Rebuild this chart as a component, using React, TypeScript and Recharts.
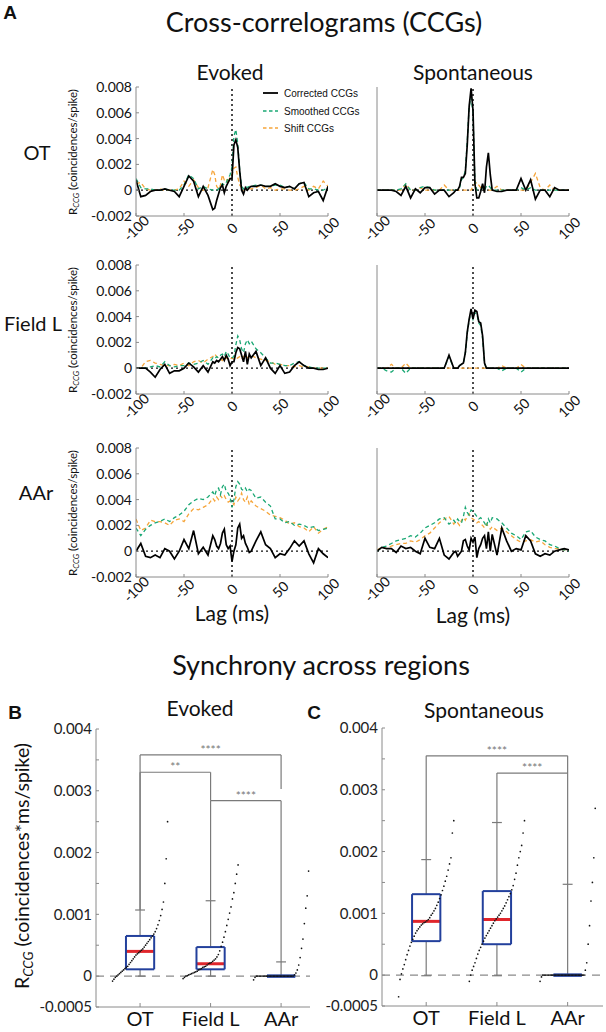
import React from "react";
import { LineChart, Line, XAxis, YAxis, ReferenceLine, ScatterChart, Scatter } from "recharts";

const FONT = "Lato, 'Open Sans', sans-serif";
const GREEN = "#1aa874";
const ORANGE = "#f6a53a";
const AXIS = "#8a8a8a";
const BOX_BLUE = "#23409c";
const MEDIAN_RED = "#e0262c";

// lag grid (ms), finer around zero
const LAGS = [
  -100, -95, -90, -85, -80, -75, -70, -65, -60, -55, -50, -45, -40, -35, -30, -25, -20,
  -18, -16, -14, -12, -10, -8, -6, -4, -2, 0, 2, 4, 6, 8, 10, 12, 14, 16, 18,
  20, 25, 30, 35, 40, 45, 50, 55, 60, 65, 70, 75, 80, 85, 90, 95, 100,
];
const LAG_TICKS = [-100, -50, 0, 50, 100];
const CCG_Y_TICKS = [-0.002, 0, 0.002, 0.004, 0.006, 0.008];

// OT, evoked
const OT_EV_CORRECTED = [
  0.0008, -0.0005, -0.0004, -0.0001, 0, 0, 0.0001, 0, -0.0001, -0.0005, 0.0003, 0.0011, 0.0007, -0.0005, 0.0003, -0.0004, -0.0015,
  -0.0014, -0.0008, -0.0003, 0.0002, 0.0004, -0.0002, 0.0003, 0.0006, 0.0009, 0.0009, 0.0035, 0.0039, 0.0033, 0.0015, 0, -0.0003, 0.0002, 0, 0.0002,
  0.0003, 0.0003, 0.0004, 0.0003, 0.0003, 0.0005, 0.0003, 0.0002, 0.0003, 0.0001, 0.0005, 0.0006, -0.0005, -0.0002, -0.0001, -0.0008, 0.0003,
];
const OT_EV_SMOOTHED = [
  0.0009, 0.0002, 0.0001, 0.0001, 0, 0, 0.0001, 0, 0, 0, 0.0004, 0.0012, 0.0009, 0.0001, 0.0003, 0.0001, 0,
  0, 0, 0.0001, 0.0003, 0.0005, 0.0004, 0.0006, 0.0009, 0.0012, 0.0018, 0.0042, 0.0047, 0.0036, 0.0016, 0.0003, 0.0001, 0.0003, 0.0002, 0.0003,
  0.0003, 0.0004, 0.0004, 0.0003, 0.0003, 0.0004, 0.0004, 0.0002, 0.0003, 0.0001, 0.0005, 0.0006, 0.0001, 0.0001, 0, 0, 0.0002,
];
const OT_EV_SHIFT = [
  0.0005, 0.0006, 0.0001, 0, 0, 0.0001, 0, 0, 0, 0.0001, 0.0007, 0.0003, 0.0008, 0.0002, 0, 0.0002, 0.0016,
  0.0012, 0.0003, 0.0001, 0.0004, 0.0012, 0.0008, 0.0009, 0.0005, 0.0011, 0.0012, 0.0017, 0.0018, 0.001, 0.0004, 0.0002, 0, 0.0001, 0, 0.0001,
  0.0001, 0.0002, 0.0004, 0.0001, 0.0002, 0, 0.0001, 0.0001, 0, 0, 0.0001, 0.0003, 0, 0.0003, 0.0001, 0.0007, 0.0003,
];

// OT, spontaneous
const OT_SP_CORRECTED = [
  0, 0, 0, 0, -0.0001, -0.0004, 0.0003, -0.0006, 0.0001, -0.0002, 0.0002, 0.0002, -0.0003, 0, 0, -0.0005, -0.0002,
  0, 0, 0.0003, 0.001, 0.001, 0.0013, 0.0035, 0.0065, 0.0079, 0.0062, 0.0005, -0.0006, -0.0006, -0.0001, 0.0005, -0.0002, 0.0018, 0.0029, 0.0012,
  0, -0.0001, -0.0001, 0, 0, 0, 0.0009, 0, 0.0008, -0.0007, 0, 0, -0.0005, 0.0002, 0, 0, 0,
];
const OT_SP_SMOOTHED = [
  0, 0, 0, 0, 0, 0.0001, 0.0005, 0, 0, 0.0002, 0.0003, 0.0002, 0, 0, 0, 0, 0,
  0, 0, 0.0002, 0.0008, 0.001, 0.0015, 0.0038, 0.0065, 0.0072, 0.006, 0.0007, 0, 0, 0, 0.0002, 0, 0.0003, 0.0004, 0.0002,
  0, 0, 0, 0, 0, 0, 0.0002, 0, 0.0002, 0, 0, 0, 0, 0, 0, 0, 0,
];
const OT_SP_SHIFT = [
  0, 0, 0, 0, 0, 0, 0.0005, 0, 0, 0.0002, 0, 0, 0, 0, 0.0004, 0, 0,
  0, 0, 0, 0, 0, 0, 0, 0, 0, 0.0003, 0.0005, 0.0006, 0.0004, 0.0002, 0.0003, 0, 0, 0, 0,
  0, 0.0003, 0, 0, 0, 0, 0, 0, 0.0006, 0.0013, 0.0002, 0, 0.0004, 0, 0, 0, 0,
];

// Field L, evoked
const FL_EV_CORRECTED = [
  0, 0, 0, -0.0003, -0.0007, -0.0001, 0.0003, -0.0004, -0.0002, -0.0002, 0, 0.0004, 0.0001, -0.0003, 0.0002, -0.0003, 0.0005,
  0.0004, 0.0006, 0.0005, 0.0007, 0.0009, 0.0006, 0.001, 0.0007, 0.0002, 0.0005, 0.0005, 0.0012, 0.0016, 0.0015, 0.001, 0.0005, 0.0013, 0.0003, 0.0011,
  0.0008, 0.0013, 0.0002, 0.0008, 0, -0.0004, 0.0002, -0.0004, -0.0003, 0.0002, 0.0005, 0.0002, 0, 0, -0.0001, -0.0001, 0,
];
const FL_EV_SMOOTHED = [
  0, 0, 0, 0.0001, 0.0002, 0.0001, 0.0005, 0.0002, 0.0001, 0.0002, 0.0002, 0.0004, 0.0003, 0.0004, 0.0006, 0.0003, 0.0008,
  0.0007, 0.0009, 0.0008, 0.001, 0.0011, 0.0009, 0.0013, 0.0011, 0.0008, 0.0008, 0.0009, 0.0018, 0.0025, 0.0022, 0.0015, 0.0012, 0.0019, 0.0022, 0.0019,
  0.0021, 0.0015, 0.0012, 0.0008, 0.0004, 0.0004, 0.0003, 0.0002, 0.0002, 0.0004, 0.0005, 0.0002, 0.0001, 0, 0, 0, 0,
];
const FL_EV_SHIFT = [
  0, 0, 0.0005, 0.0006, 0.0004, 0.0003, 0.0002, 0.0002, 0.0003, 0.0002, 0.0004, 0.0002, 0.0005, 0.0006, 0.0004, 0.0007, 0.0009,
  0.0011, 0.0009, 0.0008, 0.0007, 0.0006, 0.0009, 0.0008, 0.0007, 0.0007, 0.0008, 0.0007, 0.0007, 0.0008, 0.0009, 0.0007, 0.0009, 0.001, 0.0008, 0.0009,
  0.001, 0.0008, 0.0007, 0.0006, 0.0005, 0.0003, 0.0003, 0.0002, 0.0002, 0.0001, 0.0002, 0.0001, 0.0001, 0, 0, 0, 0,
];

// Field L, spontaneous
const FL_SP_CORRECTED = [
  0, 0, 0, 0, 0, 0, 0, 0, 0, 0, 0, 0, 0, 0, 0, 0.001, 0,
  0, 0, 0.0002, 0.0003, 0.0004, 0.0012, 0.0028, 0.0038, 0.0046, 0.0038, 0.0045, 0.0044, 0.0036, 0.0035, 0.0025, 0.0004, 0, 0, 0,
  0, 0, 0, 0, 0, 0, 0, 0, 0, 0, 0, 0, 0, 0, 0, 0, 0,
];
const FL_SP_SMOOTHED = [
  0, 0, -0.0002, -0.0003, 0, 0, -0.0004, 0, 0, 0, 0, 0, 0, 0, 0, 0.0009, 0,
  0, 0, 0.0002, 0.0003, 0.0004, 0.0011, 0.0027, 0.0037, 0.0044, 0.0038, 0.0043, 0.0042, 0.0035, 0.0033, 0.0023, 0.0004, 0, 0, 0,
  0, 0, -0.0002, 0, 0, 0, -0.0003, 0, 0, 0, 0, 0, 0, 0, 0, 0, 0,
];
const FL_SP_SHIFT = [
  0, 0, 0, 0.0003, 0, 0, 0.0004, 0, 0, 0, 0, 0, 0, 0, 0, 0, 0,
  0, 0, 0, 0, 0, 0, 0, 0, 0, 0, 0, 0, 0, 0, 0, 0, 0, 0, 0,
  0, 0, 0.0002, 0, 0, 0, 0.0003, 0, 0, 0, 0, 0, 0, 0, 0, 0, 0,
];

// AAr, evoked
const AAR_EV_CORRECTED = [
  0, 0.0006, -0.0004, -0.0005, -0.0003, -0.0005, 0.0002, 0, -0.0006, 0, 0.0009, 0.0002, 0.0016, -0.0002, 0.0003, -0.0003, 0.0012,
  0.0009, 0.0004, 0.0002, 0.0006, 0.0014, 0.0017, 0.0005, 0.0002, 0.0004, -0.0008, 0, 0.0005, 0.0018, 0.0021, 0.001, 0.0012, 0.0006, 0.0003, -0.0001,
  0, 0.0008, 0.0015, 0.0005, 0.0002, -0.0005, -0.0002, -0.0003, 0.0002, 0.0008, 0.0004, 0.0008, -0.0002, -0.0009, 0.0002, -0.0002, -0.0005,
];
const AAR_EV_SMOOTHED = [
  0.0018, 0.0012, 0.0017, 0.002, 0.0022, 0.0023, 0.0025, 0.0023, 0.0026, 0.0028, 0.0031, 0.0036, 0.0039, 0.0041, 0.004, 0.0042, 0.0046,
  0.0043, 0.0048, 0.0049, 0.0044, 0.005, 0.0052, 0.0046, 0.0045, 0.0042, 0.0034, 0.004, 0.005, 0.0054, 0.0052, 0.0048, 0.0047, 0.0049, 0.0046, 0.0048,
  0.0047, 0.0041, 0.0042, 0.0038, 0.0035, 0.0025, 0.0025, 0.0022, 0.0023, 0.002, 0.0021, 0.002, 0.0018, 0.0019, 0.0016, 0.0017, 0.0018,
];
const AAR_EV_SHIFT = [
  0.0025, 0.0016, 0.0018, 0.0024, 0.0023, 0.0023, 0.0022, 0.002, 0.0024, 0.0025, 0.0023, 0.0029, 0.0033, 0.0032, 0.0034, 0.0036, 0.0041,
  0.0039, 0.0042, 0.004, 0.0043, 0.0041, 0.0043, 0.004, 0.0038, 0.0039, 0.0038, 0.0036, 0.0042, 0.0039, 0.0041, 0.0045, 0.004, 0.0038, 0.0042, 0.0036,
  0.0039, 0.0035, 0.0033, 0.0031, 0.0028, 0.0027, 0.0026, 0.0024, 0.0021, 0.0022, 0.0019, 0.0018, 0.0015, 0.0019, 0.0014, 0.0017, 0.0019,
];

// AAr, spontaneous
const AAR_SP_CORRECTED = [
  0, 0.0003, 0.0002, 0.0002, -0.0001, 0.0004, 0.0002, 0.0003, 0, -0.0002, 0.001, 0.0003, 0.0002, 0.001, -0.0003, -0.0006, -0.0001,
  0, -0.0004, -0.0002, 0, 0.0008, 0.0009, 0.0004, 0.0001, 0.001, 0.0007, 0.0011, -0.0005, 0.0002, 0.0005, 0.001, 0.0012, 0.0002, 0.0015, 0,
  0.0013, -0.0003, 0.0018, 0.0008, 0, 0.0002, 0.0001, 0.0012, 0.0008, -0.0002, -0.0004, -0.0002, -0.0003, 0, 0.0001, 0.0002, 0.0001,
];
const AAR_SP_SMOOTHED = [
  0, 0.0003, 0.0004, 0.0006, 0.0008, 0.0009, 0.001, 0.0012, 0.0011, 0.0014, 0.0018, 0.002, 0.0022, 0.0025, 0.0026, 0.0021, 0.0024,
  0.0022, 0.0025, 0.0023, 0.0022, 0.0027, 0.0034, 0.003, 0.0028, 0.0032, 0.0031, 0.0029, 0.0027, 0.0025, 0.0026, 0.0024, 0.0022, 0.0019, 0.0025, 0.0022,
  0.0026, 0.0025, 0.0022, 0.0018, 0.0014, 0.0012, 0.0009, 0.0015, 0.0016, 0.0011, 0.0009, 0.0008, 0.0005, 0.0004, 0.0002, 0.0001, 0,
];
const AAR_SP_SHIFT = [
  0.0001, 0.0003, 0.0002, 0.0004, 0.0005, 0.0006, 0.0006, 0.0008, 0.0007, 0.0009, 0.0012, 0.0014, 0.0018, 0.0022, 0.0025, 0.0027, 0.0021,
  0.0023, 0.0022, 0.002, 0.0024, 0.0026, 0.0024, 0.0027, 0.0029, 0.0026, 0.0025, 0.0024, 0.0022, 0.0023, 0.0021, 0.002, 0.0018, 0.0021, 0.0019, 0.0017,
  0.0019, 0.0016, 0.0018, 0.0015, 0.0012, 0.0009, 0.0007, 0.0008, 0.0009, 0.0007, 0.0008, 0.0005, 0.0003, 0.0002, 0.0002, 0.0001, 0.0001,
];

// Synchrony box plots
const REGIONS = ["OT", "Field L", "AAr"];
const BOX_Y_TICKS = [-0.0005, 0, 0.0005, 0.001, 0.0015, 0.002, 0.0025, 0.003, 0.0035, 0.004];
const BOX_Y_LABELED = [-0.0005, 0, 0.001, 0.002, 0.003, 0.004];

const EV_Q1 = [0.00011, 0.00011, 0];
const EV_MEDIAN = [0.0004, 0.0002, 0];
const EV_Q3 = [0.00065, 0.00047, 0];
const EV_LO = [0, 0, 0];
const EV_HI = [0.00107, 0.00122, 0.00023];

const SP_Q1 = [0.00055, 0.0005, 0];
const SP_MEDIAN = [0.00087, 0.0009, 0];
const SP_Q3 = [0.00131, 0.00136, 0];
const SP_LO = [-0.00001, -0.00001, 0];
const SP_HI = [0.00187, 0.00247, 0.00147];

const EV_OT_PTS = [
  -0.00008, -0.00005, -0.00002, 0, 0.00002, 0.00004, 0.00006, 0.00008, 0.0001, 0.00012, 0.00014, 0.00016, 0.00019, 0.00022,
  0.00025, 0.00028, 0.00031, 0.00034, 0.00036, 0.00038, 0.0004, 0.00042, 0.00044, 0.00047, 0.0005, 0.00053, 0.00056, 0.00059,
  0.00062, 0.00065, 0.00068, 0.00072, 0.00077, 0.00083, 0.0009, 0.00098, 0.00108, 0.0012, 0.0015, 0.0019, 0.0025,
];
const EV_FL_PTS = [
  -0.00004, -0.00002, 0, 0.00001, 0.00002, 0.00003, 0.00004, 0.00005, 0.00006, 0.00007, 0.00008, 0.0001, 0.00011, 0.00012,
  0.00014, 0.00015, 0.00016, 0.00018, 0.0002, 0.00021, 0.00022, 0.00024, 0.00026, 0.00028, 0.00031, 0.00035, 0.00041, 0.00048,
  0.00055, 0.00063, 0.00072, 0.00082, 0.00092, 0.00102, 0.00112, 0.00125, 0.00135, 0.0015, 0.00165, 0.0018,
];
const EV_AAR_PTS = [
  -0.00006, -0.00002, 0, 0, 0, 0, 0, 0, 0, 0, 0, 0, 0, 0, 0, 0, 0, 0, 0, 0, 0, 0, 0, 0, 0, 0, 0, 0, 0,
  0.00002, 0.00005, 0.0001, 0.00018, 0.0003, 0.00045, 0.0006, 0.00085, 0.0011, 0.0013, 0.0017,
];
const SP_OT_PTS = [
  -0.00035, -0.00007, 0.00002, 0.0001, 0.00017, 0.00025, 0.00033, 0.0004, 0.00047, 0.00053, 0.00058, 0.00063, 0.00068, 0.00072,
  0.00075, 0.00078, 0.00081, 0.00083, 0.00085, 0.00086, 0.00088, 0.0009, 0.00093, 0.00097, 0.001, 0.00104, 0.00108, 0.00113,
  0.00118, 0.00124, 0.0013, 0.00137, 0.00144, 0.00152, 0.0016, 0.0017, 0.0018, 0.0019, 0.0023, 0.0025,
];
const SP_FL_PTS = [
  -0.0001, 0, 0.00008, 0.00014, 0.0002, 0.00027, 0.00034, 0.0004, 0.00045, 0.0005, 0.00055, 0.0006, 0.00064, 0.00068,
  0.00072, 0.00076, 0.0008, 0.00084, 0.00088, 0.00091, 0.00094, 0.00097, 0.001, 0.00104, 0.00108, 0.00112, 0.00117, 0.00122,
  0.00127, 0.00132, 0.00138, 0.00145, 0.00155, 0.00165, 0.00178, 0.0019, 0.002, 0.0021, 0.0023, 0.0025,
];
const SP_AAR_PTS = [
  -0.0001, -0.00003, 0, 0, 0, 0, 0, 0, 0, 0, 0, 0, 0, 0, 0, 0, 0, 0, 0, 0, 0, 0, 0, 0, 0, 0, 0, 0, 0, 0, 0, 0,
  0.00008, 0.0002, 0.0005, 0.0008, 0.0012, 0.0015, 0.0019, 0.0027,
];

// significance brackets: groups a-b, bar height, and where each leg stops
const EV_SIG = [
  { a: 0, b: 2, y: 0.00358, yA: EV_HI[0], yB: 0.00303, stars: "****" },
  { a: 0, b: 1, y: 0.0033, yA: EV_HI[0], yB: 0.00284, stars: "**" },
  { a: 1, b: 2, y: 0.00284, yA: EV_HI[1], yB: EV_HI[2], stars: "****" },
];
const SP_SIG = [
  { a: 0, b: 2, y: 0.00355, yA: SP_HI[0], yB: 0.00327, stars: "****" },
  { a: 1, b: 2, y: 0.00327, yA: SP_HI[1], yB: SP_HI[2], stars: "****" },
];

const fmtCcg = (v: number) => (v === 0 ? "0" : v.toFixed(3));
const fmtBox = (v: number) => (BOX_Y_LABELED.includes(v) ? (v === 0 ? "0" : String(v)) : "");

const Txt = ({ x, y, size, bold, rot, children }: any) => (
  <div
    style={{
      position: "absolute",
      left: x,
      top: y,
      transform: `translate(-50%, -50%)${rot ? " rotate(-90deg)" : ""}`,
      fontSize: size,
      fontWeight: bold ? 700 : 400,
      fontFamily: bold ? "Arial, 'Liberation Sans', sans-serif" : FONT,
      whiteSpace: "nowrap",
      lineHeight: 1,
      color: "#111",
    }}
  >
    {children}
  </div>
);

const Rccg = ({ unit }: { unit: string }) => (
  <>
    R<sub style={{ fontSize: "0.68em", fontStyle: "italic", verticalAlign: "-0.25em", lineHeight: 0 }}>CCG</sub> ({unit})
  </>
);

const LagTick = ({ x, y, payload }: any) => (
  <text
    x={x}
    y={y}
    transform={`rotate(-45 ${x} ${y})`}
    textAnchor="middle"
    dominantBaseline="central"
    fontSize={14}
    fill="#111"
    fontFamily={FONT}
  >
    {payload.value}
  </text>
);

const PLOT_W = 192;
const PLOT_H = 129;
const YAX_W = 80;
const M_TOP = 14;
const M_RIGHT = 22;

function CcgChart({ left, top, corrected, smoothed, shift, yLabels }: any) {
  const data = LAGS.map((lag, i) => ({ lag, corrected: corrected[i], smoothed: smoothed[i], shift: shift[i] }));
  return (
    <div style={{ position: "absolute", left: left - YAX_W, top: top - M_TOP }}>
      <LineChart
        width={YAX_W + PLOT_W + M_RIGHT}
        height={M_TOP + PLOT_H + 46}
        data={data}
        margin={{ top: M_TOP, right: M_RIGHT, bottom: 0, left: 0 }}
      >
        <XAxis
          type="number"
          dataKey="lag"
          domain={[-100, 100]}
          ticks={LAG_TICKS}
          interval={0}
          height={46}
          stroke={AXIS}
          tickSize={-3}
          tickMargin={15}
          tick={<LagTick />}
          allowDataOverflow
        />
        <YAxis
          type="number"
          domain={[-0.002, 0.008]}
          ticks={CCG_Y_TICKS}
          interval={0}
          width={YAX_W}
          stroke={AXIS}
          tickSize={-3}
          tickMargin={7}
          tick={yLabels ? { fill: "#111", fontSize: 14, fontFamily: FONT } : false}
          tickFormatter={fmtCcg}
          allowDataOverflow
        />
        <ReferenceLine y={0} stroke="#111" strokeDasharray="2 3" strokeWidth={1.3} />
        <ReferenceLine x={0} stroke="#111" strokeDasharray="2 3" strokeWidth={1.5} />
        <Line type="linear" dataKey="shift" stroke={ORANGE} strokeWidth={1.3} strokeDasharray="4 3" dot={false} isAnimationActive={false} />
        <Line type="linear" dataKey="smoothed" stroke={GREEN} strokeWidth={1.3} strokeDasharray="4 3" dot={false} isAnimationActive={false} />
        <Line type="linear" dataKey="corrected" stroke="#000" strokeWidth={1.7} dot={false} isAnimationActive={false} />
      </LineChart>
    </div>
  );
}

const dotShape = (p: any) => <circle cx={p.cx} cy={p.cy} r={0.85} fill="#111" />;

function BoxChart({ left, top, width, xMax, q1, med, q3, lo, hi, points, sig }: any) {
  const height = 278;
  const scatterData = points.flatMap((vals: number[], g: number) =>
    vals.map((v, k) => ({ x: g + 1 - 0.39 + (0.78 * k) / (vals.length - 1), y: v }))
  );
  const grey = { stroke: "#7a7a7a", strokeWidth: 1.2 };
  const marks: any[] = [];
  REGIONS.forEach((_, g) => {
    const c = g + 1;
    marks.push(<ReferenceLine key={`wu${g}`} segment={[{ x: c, y: q3[g] }, { x: c, y: hi[g] }]} {...grey} />);
    marks.push(<ReferenceLine key={`wl${g}`} segment={[{ x: c, y: lo[g] }, { x: c, y: q1[g] }]} {...grey} />);
    marks.push(<ReferenceLine key={`cu${g}`} segment={[{ x: c - 0.07, y: hi[g] }, { x: c + 0.07, y: hi[g] }]} {...grey} />);
    marks.push(<ReferenceLine key={`cl${g}`} segment={[{ x: c - 0.07, y: lo[g] }, { x: c + 0.07, y: lo[g] }]} {...grey} />);
  });
  sig.forEach((s: any, i: number) => {
    marks.push(
      <ReferenceLine
        key={`sh${i}`}
        segment={[{ x: s.a + 1, y: s.y }, { x: s.b + 1, y: s.y }]}
        {...grey}
        label={{ value: s.stars, position: "top", fill: "#777", fontSize: 12, offset: 1, fontFamily: FONT }}
      />
    );
    marks.push(<ReferenceLine key={`sa${i}`} segment={[{ x: s.a + 1, y: s.yA }, { x: s.a + 1, y: s.y }]} {...grey} />);
    marks.push(<ReferenceLine key={`sb${i}`} segment={[{ x: s.b + 1, y: s.yB }, { x: s.b + 1, y: s.y }]} {...grey} />);
  });
  const boxes: any[] = [];
  REGIONS.forEach((_, g) => {
    const c = g + 1;
    const l = c - 0.2;
    const r = c + 0.2;
    const flat = q3[g] === q1[g];
    if (!flat)
      boxes.push(
        <ReferenceLine key={`m${g}`} segment={[{ x: l, y: med[g] }, { x: r, y: med[g] }]} stroke={MEDIAN_RED} strokeWidth={3} />
      );
    const bw = flat ? 3 : 2;
    boxes.push(<ReferenceLine key={`bt${g}`} segment={[{ x: l, y: q3[g] }, { x: r, y: q3[g] }]} stroke={BOX_BLUE} strokeWidth={bw} />);
    boxes.push(<ReferenceLine key={`bb${g}`} segment={[{ x: l, y: q1[g] }, { x: r, y: q1[g] }]} stroke={BOX_BLUE} strokeWidth={bw} />);
    if (!flat) {
      boxes.push(<ReferenceLine key={`bl${g}`} segment={[{ x: l, y: q1[g] }, { x: l, y: q3[g] }]} stroke={BOX_BLUE} strokeWidth={2} />);
      boxes.push(<ReferenceLine key={`br${g}`} segment={[{ x: r, y: q1[g] }, { x: r, y: q3[g] }]} stroke={BOX_BLUE} strokeWidth={2} />);
    }
  });
  return (
    <div style={{ position: "absolute", left: left - 60, top: top - 10 }}>
      <ScatterChart width={60 + width + 3} height={10 + height + 26} margin={{ top: 10, right: 3, bottom: 0, left: 0 }}>
        <XAxis
          type="number"
          dataKey="x"
          domain={[0.375, xMax]}
          ticks={[1, 2, 3]}
          interval={0}
          tickFormatter={(v: number) => REGIONS[v - 1]}
          height={26}
          stroke={AXIS}
          tickSize={-4}
          tickMargin={9}
          tick={{ fill: "#111", fontSize: 20, fontFamily: FONT }}
          allowDataOverflow
        />
        <YAxis
          type="number"
          dataKey="y"
          domain={[-0.0005, 0.004]}
          ticks={BOX_Y_TICKS}
          interval={0}
          width={60}
          stroke={AXIS}
          tickSize={-3}
          tickMargin={7}
          tickFormatter={fmtBox}
          tick={{ fill: "#222", fontSize: 15, fontFamily: FONT }}
          allowDataOverflow
        />
        <ReferenceLine y={0} stroke="#8a8a8a" strokeDasharray="8 6" strokeWidth={1.1} />
        {marks}
        <Scatter data={scatterData} shape={dotShape} isAnimationActive={false} />
        {boxes}
      </ScatterChart>
    </div>
  );
}

const LegendRow = ({ y, color, dash, label }: any) => (
  <div style={{ position: "absolute", left: 262, top: y - 6, height: 12, display: "flex", alignItems: "center", whiteSpace: "nowrap" }}>
    <svg width={17} height={12}>
      <line x1={1} y1={6} x2={16} y2={6} stroke={color} strokeWidth={dash ? 1.4 : 1.8} strokeDasharray={dash ? "3.5 2.5" : undefined} />
    </svg>
    <span style={{ marginLeft: 5, fontSize: 10, fontFamily: "Arial, 'Liberation Sans', sans-serif", color: "#111" }}>{label}</span>
  </div>
);

const ROW_TOPS = [87, 265, 448];
const COL_LEFTS = [136, 377];

export default function App() {
  const panels = [
    { r: 0, c: 0, corrected: OT_EV_CORRECTED, smoothed: OT_EV_SMOOTHED, shift: OT_EV_SHIFT },
    { r: 0, c: 1, corrected: OT_SP_CORRECTED, smoothed: OT_SP_SMOOTHED, shift: OT_SP_SHIFT },
    { r: 1, c: 0, corrected: FL_EV_CORRECTED, smoothed: FL_EV_SMOOTHED, shift: FL_EV_SHIFT },
    { r: 1, c: 1, corrected: FL_SP_CORRECTED, smoothed: FL_SP_SMOOTHED, shift: FL_SP_SHIFT },
    { r: 2, c: 0, corrected: AAR_EV_CORRECTED, smoothed: AAR_EV_SMOOTHED, shift: AAR_EV_SHIFT },
    { r: 2, c: 1, corrected: AAR_SP_CORRECTED, smoothed: AAR_SP_SMOOTHED, shift: AAR_SP_SHIFT },
  ];
  return (
    <div style={{ position: "absolute", left: 0, top: 0, width: 606, height: 1032, overflow: "hidden", background: "#fff", fontFamily: FONT }}>
      {panels.map((p) => (
        <CcgChart
          key={`${p.r}-${p.c}`}
          left={COL_LEFTS[p.c]}
          top={ROW_TOPS[p.r]}
          corrected={p.corrected}
          smoothed={p.smoothed}
          shift={p.shift}
          yLabels={p.c === 0}
        />
      ))}

      <BoxChart
        left={96}
        top={729}
        width={214}
        xMax={3.41}
        q1={EV_Q1}
        med={EV_MEDIAN}
        q3={EV_Q3}
        lo={EV_LO}
        hi={EV_HI}
        points={[EV_OT_PTS, EV_FL_PTS, EV_AAR_PTS]}
        sig={EV_SIG}
      />
      <BoxChart
        left={382}
        top={728}
        width={221}
        xMax={3.5}
        q1={SP_Q1}
        med={SP_MEDIAN}
        q3={SP_Q3}
        lo={SP_LO}
        hi={SP_HI}
        points={[SP_OT_PTS, SP_FL_PTS, SP_AAR_PTS]}
        sig={SP_SIG}
      />

      <Txt x={10} y={12} size={19} bold>A</Txt>
      <Txt x={324} y={21} size={27}>Cross-correlograms (CCGs)</Txt>
      <Txt x={230} y={71} size={21}>Evoked</Txt>
      <Txt x={473} y={71} size={21}>Spontaneous</Txt>
      <Txt x={37} y={152} size={20}>OT</Txt>
      <Txt x={33} y={323} size={20}>Field L</Txt>
      <Txt x={36} y={492} size={20}>AAr</Txt>
      {ROW_TOPS.map((t) => (
        <Txt key={t} x={73} y={t + PLOT_H / 2} size={11.5} rot>
          <Rccg unit="coincidences/spike" />
        </Txt>
      ))}
      <Txt x={232} y={612} size={21}>Lag (ms)</Txt>
      <Txt x={473} y={614} size={21}>Lag (ms)</Txt>

      <LegendRow y={93} color="#000" label="Corrected CCGs" />
      <LegendRow y={111} color={GREEN} dash label="Smoothed CCGs" />
      <LegendRow y={128} color={ORANGE} dash label="Shift CCGs" />

      <Txt x={321} y={664} size={27}>Synchrony across regions</Txt>
      <Txt x={15} y={712} size={19} bold>B</Txt>
      <Txt x={314} y={712} size={19} bold>C</Txt>
      <Txt x={200} y={707} size={21}>Evoked</Txt>
      <Txt x={484} y={709} size={21}>Spontaneous</Txt>
      <Txt x={22} y={866} size={19.5} rot>
        <Rccg unit="coincidences*ms/spike" />
      </Txt>
    </div>
  );
}
